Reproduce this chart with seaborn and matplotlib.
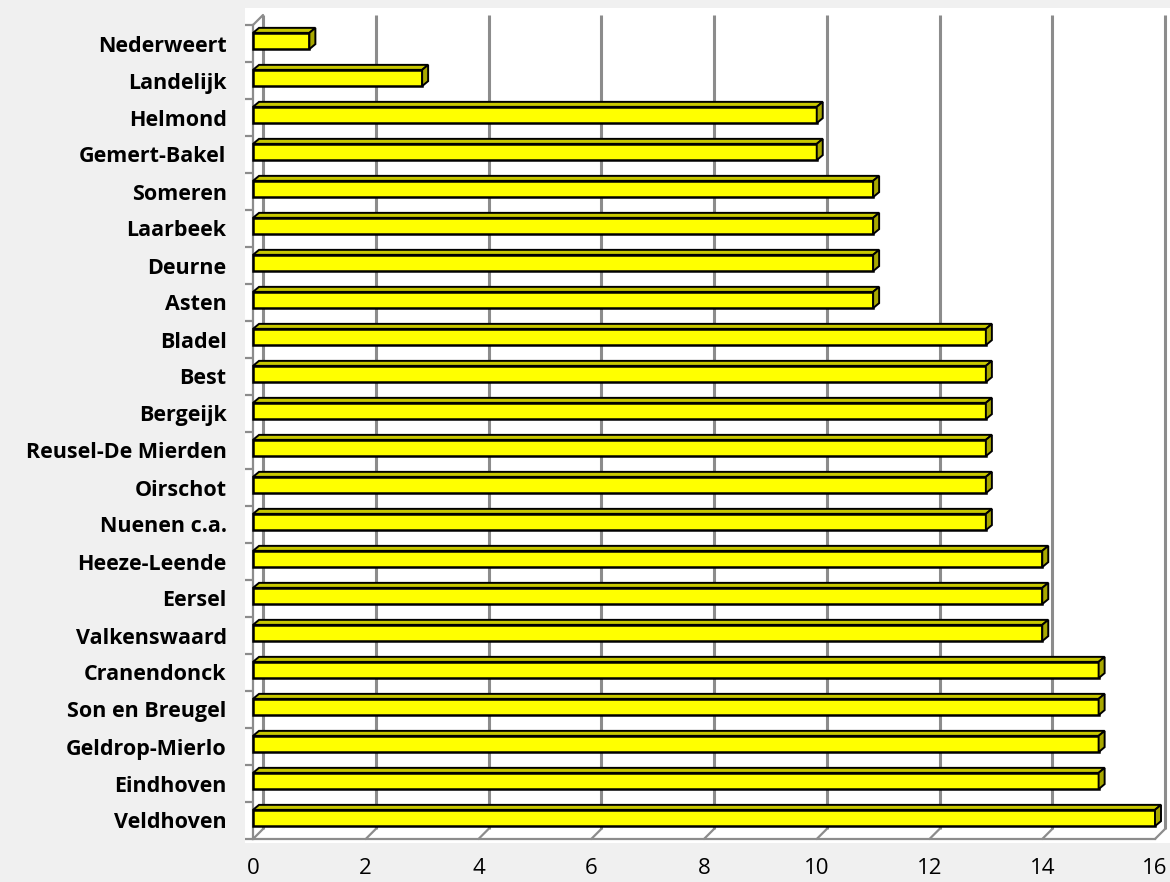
import matplotlib
matplotlib.use('Agg')
import matplotlib.pyplot as plt
import matplotlib.transforms as mtransforms
from matplotlib.patches import Polygon
import seaborn as sns
import pandas as pd

gemeenten = ['Nederweert', 'Landelijk', 'Helmond', 'Gemert-Bakel', 'Someren', 'Laarbeek',
             'Deurne', 'Asten', 'Bladel', 'Best', 'Bergeijk', 'Reusel-De Mierden', 'Oirschot',
             'Nuenen c.a.', 'Heeze-Leende', 'Eersel', 'Valkenswaard', 'Cranendonck',
             'Son en Breugel', 'Geldrop-Mierlo', 'Eindhoven', 'Veldhoven']
waarden = [1, 3, 10, 10, 11, 11, 11, 11, 13, 13, 13, 13, 13, 13, 14, 14, 14, 15, 15, 15, 15, 16]
x_ticks = [0, 2, 4, 6, 8, 10, 12, 14, 16]

df = pd.DataFrame({'gemeente': gemeenten, 'waarde': waarden})

sns.set_style("white")
plt.rcParams['font.family'] = ['Open Sans', 'DejaVu Sans']

W, H, DPI = 1170, 882, 100
fig = plt.figure(figsize=(W / DPI, H / DPI), dpi=DPI, facecolor='#f0f0f0')

# white plot area behind the axes
bg = plt.Rectangle((245 / W, 1 - 843 / H), (W - 245) / W, (843 - 8) / H,
                   transform=fig.transFigure, facecolor='white', edgecolor='none', zorder=-5)
fig.patches.append(bg)

left, right, top, bottom = 253, 1155, 25, 839
ax = fig.add_axes([left / W, 1 - bottom / H, (right - left) / W, (bottom - top) / H])
ax.patch.set_alpha(0)

n = len(gemeenten)
bar_h = 0.44
sns.barplot(data=df, y='gemeente', x='waarde', orient='h', color='#ffff00',
            edgecolor='black', linewidth=1.8, width=bar_h, saturation=1, ax=ax, zorder=3)

ax.set_xlim(0, 16)
ax.set_ylim(n - 0.5, -0.5)

# unit sizes of one pixel in data coordinates
ux = 16 / (right - left)
uy = n / (bottom - top)

# back wall gridlines, shifted up and right
grey = '#8c8c8c'
gx, gy = 10, 10
back = ax.transData + mtransforms.ScaledTranslation(gx / DPI, gy / DPI, fig.dpi_scale_trans)
ax.vlines(x_ticks, n - 0.5, -0.5, color=grey, lw=2.2, transform=back, clip_on=False, zorder=1)
for xt in x_ticks:
    ax.plot([xt, xt + gx * ux], [n - 0.5, n - 0.5 - gy * uy], color=grey, lw=1.6,
            clip_on=False, zorder=1)
ax.plot([0, gx * ux], [-0.5, -0.5 - gy * uy], color=grey, lw=1.6, clip_on=False, zorder=1)

# 3D faces of the bars (whole bar lifted a little, as in the 3D view)
lift = ax.transData + mtransforms.ScaledTranslation(0, 2.5 / DPI, fig.dpi_scale_trans)
dx, dy = 6 * ux, 5 * uy
for p in list(ax.patches):
    p.set_clip_on(False)
    p.set_transform(lift)
    x0, y0 = p.get_x(), p.get_y()
    w, h = p.get_width(), p.get_height()
    top_face = Polygon([(x0, y0), (x0 + dx, y0 - dy), (x0 + w + dx, y0 - dy), (x0 + w, y0)],
                       closed=True, facecolor='#c8c800', edgecolor='black', lw=1.4, zorder=4,
                       clip_on=False, transform=lift)
    side_face = Polygon([(x0 + w, y0), (x0 + w + dx, y0 - dy), (x0 + w + dx, y0 + h - dy),
                         (x0 + w, y0 + h)],
                        closed=True, facecolor='#a8a800', edgecolor='black', lw=1.4, zorder=4,
                        clip_on=False, transform=lift)
    ax.add_patch(top_face)
    ax.add_patch(side_face)

# axes lines and ticks
for s in ['top', 'right']:
    ax.spines[s].set_visible(False)
for s in ['left', 'bottom']:
    ax.spines[s].set_color(grey)
    ax.spines[s].set_linewidth(1.6)

ax.set_xticks(x_ticks)
ax.set_xticklabels([str(t) for t in x_ticks], fontsize=16, color='black')
ax.tick_params(axis='x', length=7, width=1.6, color=grey, pad=7, labelcolor='black')
ax.set_yticks(range(n))
ax.set_yticklabels(gemeenten, fontsize=15.5, fontweight='bold', color='black')
ax.tick_params(axis='y', length=0, pad=19, labelcolor='black')
ax.set_yticks([i - 0.5 for i in range(n + 1)], minor=True)
ax.tick_params(axis='y', which='minor', length=6, width=1.6, color=grey, left=True)

ax.set_xlabel('')
ax.set_ylabel('')
ax.grid(False)

fig.savefig('out.png', dpi=DPI, facecolor=fig.get_facecolor())
